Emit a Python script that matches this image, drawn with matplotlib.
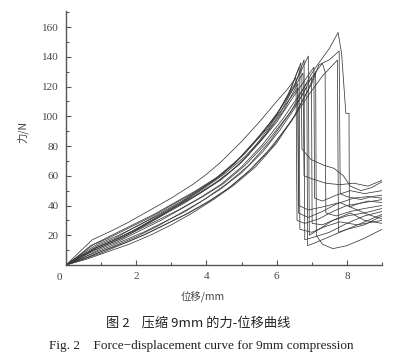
import matplotlib
matplotlib.use('Agg')
import matplotlib.pyplot as plt
from matplotlib.ticker import MultipleLocator

# force-displacement curves, (displacement mm, force N)
curve01 = [(0, 0), (0.35, 8), (0.75, 17), (1.3, 23), (1.8, 29), (2.4, 37), (3.0, 45), (3.6, 54),
           (4.0, 61), (4.4, 69), (5.0, 83), (5.5, 96), (6.0, 110), (6.3, 118), (6.55, 126),
           (6.58, 30), (6.8, 28), (7.2, 31), (7.6, 36), (8.0, 40), (8.5, 42), (9.0, 44)]
curve02 = [(0, 0), (0.3, 5), (0.7, 13), (1.2, 18), (1.8, 25), (2.4, 32), (3.0, 40), (3.6, 48),
           (4.2, 57), (4.8, 68), (5.4, 84), (6.0, 101), (6.4, 118), (6.69, 136), (6.72, 78),
           (6.97, 71), (7.35, 67), (7.63, 65), (7.9, 60), (8.1, 53), (8.4, 50), (8.7, 52), (9.0, 56)]
curve03 = [(0, 0), (0.5, 7), (0.9, 13), (1.4, 18), (2.0, 26), (2.6, 33), (3.2, 41), (3.8, 50),
           (4.4, 60), (5.0, 73), (5.6, 89), (6.1, 105), (6.5, 121), (6.9, 140.5), (6.93, 20),
           (7.2, 24), (7.6, 30), (8.0, 33), (8.5, 35), (9.0, 38)]
curve04 = [(0, 0), (0.4, 5), (0.8, 11), (1.3, 16), (1.9, 23), (2.5, 31), (3.1, 39), (3.7, 47),
           (4.3, 56), (4.9, 67), (5.5, 82), (6.0, 96), (6.5, 114), (7.06, 133), (7.08, 45),
           (7.3, 43), (7.7, 47), (8.1, 50), (8.5, 48), (9.0, 50)]
curve05 = [(0, 0), (0.5, 6), (1.0, 12), (1.6, 18), (2.2, 26), (2.8, 34), (3.4, 42), (4.0, 51),
           (4.6, 61), (5.2, 74), (5.8, 93), (6.3, 113), (6.64, 133), (6.66, 24), (7.0, 22),
           (7.4, 26), (7.8, 29), (8.3, 27), (9.0, 30)]
curve06 = [(0, 0), (0.5, 4), (1.0, 9), (1.5, 14), (2.0, 19), (2.6, 26), (3.2, 34), (3.8, 42),
           (4.4, 51), (5.0, 62), (5.6, 76), (6.1, 91), (6.5, 105), (6.86, 120), (6.88, 13),
           (7.1, 15), (7.5, 19), (8.0, 24), (8.5, 27), (9.0, 33)]
curve07 = [(0, 0), (0.5, 5), (1.0, 10), (1.6, 16), (2.2, 22), (2.8, 29), (3.4, 36), (4.0, 45),
           (4.6, 55), (5.2, 67), (5.8, 83), (6.4, 103), (6.97, 127.7), (7.16, 134.5), (7.5, 145.6),
           (7.75, 156.4), (7.85, 142), (7.97, 102), (8.06, 102), (8.07, 39), (8.3, 41), (8.6, 43),
           (9.0, 42)]
curve08 = [(0, 0), (0.6, 5), (1.1, 10), (1.7, 15), (2.3, 21), (2.9, 28), (3.5, 35), (4.1, 43),
           (4.7, 53), (5.3, 65), (5.9, 80), (6.5, 100), (7.0, 122), (7.2, 134.5), (7.5, 138),
           (7.78, 143.9), (7.81, 48), (8.0, 46), (8.4, 44), (8.7, 46), (9.0, 47)]
curve09 = [(0, 0), (0.5, 4), (1.0, 8), (1.6, 14), (2.2, 20), (2.8, 27), (3.4, 34), (4.0, 42),
           (4.6, 51), (5.2, 63), (5.8, 78), (6.4, 96), (6.9, 114), (7.3, 127), (7.73, 137.8),
           (7.76, 22), (8.0, 24), (8.4, 28), (8.7, 31), (9.0, 34)]
curve10 = [(0, 0), (0.4, 6), (0.9, 11), (1.4, 16), (2.0, 23), (2.6, 30), (3.2, 37), (3.8, 45),
           (4.4, 54), (5.0, 66), (5.6, 81), (6.2, 99), (6.8, 120), (7.3, 135.6), (7.38, 130),
           (7.4, 35), (7.7, 33), (8.1, 36), (8.5, 38), (9.0, 40)]
curve11 = [(0, 0), (0.4, 7), (0.8, 14), (1.3, 20), (1.9, 27), (2.5, 34), (3.1, 42), (3.7, 50),
           (4.3, 59), (4.9, 71), (5.5, 86), (6.0, 101), (6.4, 116), (6.75, 129), (6.78, 60),
           (7.0, 58), (7.4, 55), (7.8, 54), (8.2, 55), (8.6, 53), (9.0, 57)]
curve12 = [(0, 0), (0.5, 6), (0.9, 12), (1.4, 17), (2.0, 24), (2.6, 32), (3.2, 40), (3.8, 48),
           (4.4, 57), (5.0, 69), (5.6, 85), (6.1, 102), (6.5, 120), (6.78, 138), (6.8, 17),
           (7.1, 19), (7.5, 22), (8.0, 28), (8.5, 33), (9.0, 36)]
curve13 = [(0, 0), (0.4, 6), (0.9, 12), (1.5, 18), (2.1, 25), (2.7, 33), (3.3, 42), (3.9, 51),
           (4.5, 61), (5.1, 73), (5.7, 88), (6.2, 104), (6.6, 122), (6.62, 35), (6.9, 32),
           (7.3, 36), (7.7, 41), (8.2, 45), (8.6, 46), (9.0, 45)]
curve14 = [(0, 0), (0.6, 4), (1.2, 9), (1.8, 14), (2.4, 20), (3.0, 27), (3.6, 35), (4.2, 44),
           (4.8, 54), (5.4, 66), (6.0, 82), (6.5, 100), (6.9, 118), (7.11, 130), (7.13, 20),
           (7.3, 14), (7.6, 11), (8.0, 13), (8.5, 18), (9.0, 24)]
curve15 = [(0, 0), (0.5, 8), (0.9, 14), (1.5, 20), (2.1, 27), (2.7, 35), (3.3, 43), (3.9, 52),
           (4.5, 62), (5.1, 75), (5.7, 91), (6.2, 106), (6.6, 119), (6.63, 40), (6.9, 37),
           (7.3, 39), (7.8, 42), (8.2, 38), (8.6, 34), (9.0, 31)]
curve16 = [(0, 0), (0.5, 5), (1.0, 11), (1.5, 16), (2.1, 23), (2.7, 30), (3.3, 38), (3.9, 46),
           (4.5, 55), (5.1, 67), (5.7, 82), (6.3, 100), (6.7, 113), (6.99, 126), (7.01, 28),
           (7.3, 27), (7.7, 31), (8.1, 35), (8.5, 30), (9.0, 28)]

curves = [curve01, curve02, curve03, curve04, curve05, curve06, curve07, curve08,
          curve09, curve10, curve11, curve12, curve13, curve14, curve15, curve16]

x_ticks = [2, 4, 6, 8]
y_ticks = [20, 40, 60, 80, 100, 120, 140, 160]

W, H = 397, 356
fig = plt.figure(figsize=(W / 100, H / 100), dpi=100)
ax = fig.add_axes([66 / W, 1 - 265 / H, 316 / W, 254 / H])

for c in curves:
    xs = [p[0] for p in c]
    ys = [p[1] for p in c]
    ax.plot(xs, ys, color='#3a3a3a', lw=0.55)

ax.set_xlim(0, 9)
ax.set_ylim(0, 170.8)
ax.spines['top'].set_visible(False)
ax.spines['right'].set_visible(False)
for s in ('left', 'bottom'):
    ax.spines[s].set_color('#555555')
    ax.spines[s].set_linewidth(1.0)

ax.set_xticks(x_ticks)
ax.set_yticks(y_ticks)
ax.xaxis.set_minor_locator(MultipleLocator(1))
ax.yaxis.set_minor_locator(MultipleLocator(10))
ax.tick_params(which='both', direction='in', colors='#555555', labelcolor='#444444',
               labelsize=8, width=0.8)
ax.tick_params(which='major', length=3.5, pad=5)
ax.tick_params(which='minor', length=2)
for lab in ax.get_xticklabels() + ax.get_yticklabels():
    lab.set_family('Liberation Serif')

# shared origin label
fig.text(59 / W, 1 - 277 / H, '0', ha='center', va='center', fontsize=8,
         family='Liberation Serif', color='#444444')

cjk = ['Noto Sans CJK SC', 'DejaVu Sans']
fig.text(23 / W, 1 - 132 / H, '力/N', rotation=90, ha='center', va='center',
         fontsize=7.5, family=cjk, color='#444444')
fig.text(203 / W, 1 - 297 / H, '位移/mm', ha='center', va='center',
         fontsize=7.5, family=cjk, color='#444444')

fig.text(198 / W, 1 - 323 / H, '图 2    压缩 9mm 的力-位移曲线', ha='center', va='center',
         fontsize=9.5, family=cjk, color='#222222')
fig.text(201 / W, 1 - 346 / H, 'Fig. 2    Force\u2212displacement curve for 9mm compression',
         ha='center', va='center', fontsize=9.5, family='Liberation Serif', color='#222222')

fig.savefig('out.png', dpi=100)
